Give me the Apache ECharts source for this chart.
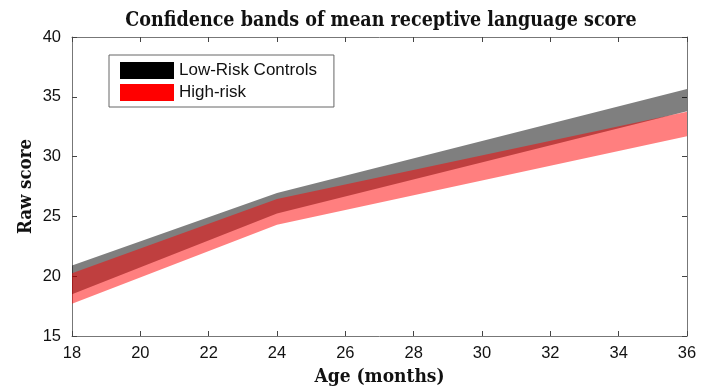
<!DOCTYPE html>
<html>
<head>
<meta charset="utf-8">
<script src="https://cdn.jsdelivr.net/npm/echarts@6/dist/echarts.min.js"></script>
<style>
  html, body { margin: 0; padding: 0; background: #fff; }
  #chart { width: 706px; height: 388px; }
</style>
</head>
<body>
<div id="chart"></div>
<script>
// Ages (months) at which the bands are evaluated
const ages = [18, 24, 36];
// Low-risk controls: lower / upper confidence limits
const lowRiskLower = [18.5, 25.25, 33.8];
const lowRiskUpper = [20.9, 26.95, 35.65];
// High-risk group: lower / upper confidence limits
const highRiskLower = [17.7, 24.3, 31.7];
const highRiskUpper = [20.25, 26.45, 33.75];

const xTicks = [18, 20, 22, 24, 26, 28, 30, 32, 34, 36];
const yTicks = [15, 20, 25, 30, 35, 40];

const frameColor = '#777';
const tickFont = { fontFamily: 'Liberation Sans, Arial, sans-serif', fontSize: 16.5, color: '#111' };
const serifBold = { fontFamily: 'DejaVu Serif Condensed, DejaVu Serif, serif', fontWeight: 'bold', color: '#111' };

// One filled polygon per band: upper edge left-to-right, lower edge back
function bandSeries(name, lo, hi, fill) {
  return {
    name: name,
    type: 'custom',
    silent: true,
    itemStyle: { color: fill },
    data: ages.map((a, i) => [a, lo[i], hi[i]]),
    encode: { x: 0, y: [1, 2] },
    renderItem: function (params, api) {
      if (params.dataIndex !== 0) return null;
      const upper = ages.map((a, i) => api.coord([a, hi[i]]));
      const lower = ages.map((a, i) => api.coord([a, lo[i]])).reverse();
      return {
        type: 'polygon',
        shape: { points: upper.concat(lower) },
        style: { fill: fill }
      };
    }
  };
}

const chart = echarts.init(document.getElementById('chart'), null, { renderer: 'canvas' });
chart.setOption({
  animation: false,
  backgroundColor: '#fff',
  title: {
    text: 'Confidence bands of mean receptive language score',
    left: 376,
    textAlign: 'center',
    top: 6,
    textStyle: Object.assign({ fontSize: 19.5 }, serifBold)
  },
  grid: { left: 72, right: 19, top: 37, bottom: 52, containLabel: false, outerBoundsMode: 'none' },
  legend: {
    orient: 'vertical',
    left: 109,
    top: 55,
    padding: [7, 17, 6, 11],
    itemGap: 5,
    itemWidth: 54,
    itemHeight: 17,
    icon: 'rect',
    borderColor: '#666',
    borderWidth: 1,
    backgroundColor: '#fff',
    textStyle: { fontFamily: 'Liberation Sans, Arial, sans-serif', fontSize: 17, color: '#111' },
    data: [
      { name: 'Low-Risk Controls', itemStyle: { color: '#000', opacity: 1 } },
      { name: 'High-risk', itemStyle: { color: '#ff0000', opacity: 1 } }
    ]
  },
  xAxis: [
    {
      type: 'value', min: 18, max: 36, interval: 2,
      name: 'Age (months)', nameLocation: 'middle', nameGap: 32,
      nameTextStyle: Object.assign({ fontSize: 19 }, serifBold),
      axisLine: { show: true, onZero: false, lineStyle: { color: frameColor } },
      axisTick: { show: true, inside: true, length: 5, lineStyle: { color: '#444' } },
      axisLabel: Object.assign({ margin: 9, formatter: v => xTicks.includes(v) ? String(v) : '' }, tickFont),
      splitLine: { show: false }
    },
    {
      type: 'value', min: 18, max: 36, interval: 2, position: 'top',
      axisLine: { show: true, onZero: false, lineStyle: { color: frameColor } },
      axisTick: { show: true, inside: true, length: 5, lineStyle: { color: '#444' } },
      axisLabel: { show: false },
      splitLine: { show: false }
    }
  ],
  yAxis: [
    {
      type: 'value', min: 15, max: 40, interval: 5,
      name: 'Raw score', nameLocation: 'middle', nameGap: 36, nameRotate: 90,
      nameMoveOverlap: false,
      nameTextStyle: Object.assign({ fontSize: 18.5 }, serifBold),
      axisLine: { show: true, onZero: false, lineStyle: { color: frameColor } },
      axisTick: { show: true, inside: true, length: 5, lineStyle: { color: '#444' } },
      axisLabel: Object.assign({ margin: 11, formatter: v => yTicks.includes(v) ? String(v) : '' }, tickFont),
      splitLine: { show: false }
    },
    {
      type: 'value', min: 15, max: 40, interval: 5, position: 'right',
      axisLine: { show: true, onZero: false, lineStyle: { color: frameColor } },
      axisTick: { show: true, inside: true, length: 5, lineStyle: { color: '#444' } },
      axisLabel: { show: false },
      splitLine: { show: false }
    }
  ],
  series: [
    bandSeries('Low-Risk Controls', lowRiskLower, lowRiskUpper, 'rgba(0,0,0,0.5)'),
    bandSeries('High-risk', highRiskLower, highRiskUpper, 'rgba(255,0,0,0.5)')
  ]
});
</script>
</body>
</html>
